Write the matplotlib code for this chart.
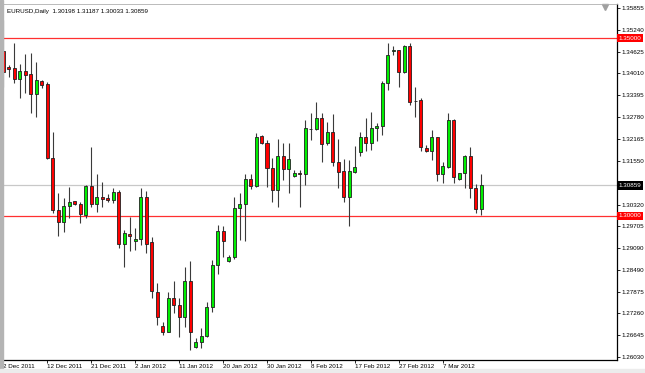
import matplotlib
matplotlib.use("Agg")
import matplotlib.pyplot as plt
from matplotlib.transforms import blended_transform_factory
from matplotlib.patches import Rectangle

plt.rcParams['font.family'] = ['Liberation Sans', 'DejaVu Sans']
FS = 4.5

# daily EURUSD candles
opens = [1.3464, 1.3418, 1.3415, 1.3385, 1.3409, 1.3399, 1.3343, 1.3380, 1.3371, 1.3162,
         1.3017, 1.2983, 1.3028, 1.3041, 1.3034, 1.3003, 1.3084, 1.3034, 1.3053, 1.3050,
         1.3045, 1.3067, 1.2921, 1.2949, 1.2931, 1.2934, 1.3054, 1.2928, 1.2787, 1.2691,
         1.2675, 1.2770, 1.2750, 1.2717, 1.2818, 1.2631, 1.2645, 1.2662, 1.2743, 1.2862,
         1.2958, 1.2874, 1.2884, 1.3022, 1.3034, 1.3104, 1.3084, 1.3225, 1.3206, 1.3136,
         1.3073, 1.3169, 1.3133, 1.3113, 1.3122, 1.3117, 1.3246, 1.3245, 1.3275, 1.3206,
         1.3237, 1.3153, 1.3127, 1.3053, 1.3125, 1.3179, 1.3221, 1.3206, 1.3247, 1.3254,
         1.3373, 1.3463, 1.3467, 1.3406, 1.3478, 1.3324, 1.3326, 1.3190, 1.3184, 1.3221,
         1.3118, 1.3139, 1.3270, 1.3103, 1.3120, 1.3169, 1.3078, 1.30198]
highs = [1.3551, 1.3425, 1.3488, 1.3427, 1.3455, 1.3459, 1.3432, 1.3383, 1.3378, 1.3237,
         1.3064, 1.3050, 1.3082, 1.3043, 1.3040, 1.3087, 1.3195, 1.3118, 1.3096, 1.3061,
         1.3079, 1.3073, 1.2961, 1.2996, 1.2965, 1.3078, 1.3071, 1.2942, 1.2811, 1.2703,
         1.2787, 1.2817, 1.2769, 1.2857, 1.2874, 1.2656, 1.2684, 1.2759, 1.2876, 1.2975,
         1.2973, 1.2890, 1.3053, 1.3064, 1.3118, 1.3118, 1.3234, 1.3228, 1.3214, 1.3162,
         1.3216, 1.3205, 1.3206, 1.3129, 1.3129, 1.3270, 1.3289, 1.3320, 1.3289, 1.3265,
         1.3287, 1.3216, 1.3160, 1.3158, 1.3197, 1.3237, 1.3275, 1.3293, 1.3262, 1.3380,
         1.3486, 1.3479, 1.3468, 1.3481, 1.3486, 1.3364, 1.3331, 1.3200, 1.3242, 1.3223,
         1.3153, 1.3290, 1.3272, 1.3122, 1.3172, 1.3193, 1.3089, 1.31187]
lows = [1.3364, 1.3390, 1.3373, 1.3331, 1.3347, 1.3289, 1.3279, 1.3359, 1.3160, 1.3008,
        1.2945, 1.2956, 1.2994, 1.3032, 1.2981, 1.2994, 1.3026, 1.3012, 1.3024, 1.3040,
        1.3036, 1.2909, 1.2856, 1.2902, 1.2904, 1.2918, 1.2895, 1.2769, 1.2693, 1.2665,
        1.2673, 1.2726, 1.2659, 1.2689, 1.2623, 1.2628, 1.2628, 1.2660, 1.2731, 1.2837,
        1.2886, 1.2871, 1.2878, 1.2932, 1.2930, 1.3075, 1.3082, 1.3203, 1.3082, 1.3040,
        1.3024, 1.3101, 1.3064, 1.3109, 1.3026, 1.3087, 1.3214, 1.3242, 1.3153, 1.3200,
        1.3141, 1.3078, 1.3040, 1.2972, 1.3122, 1.3170, 1.3183, 1.3186, 1.3211, 1.3228,
        1.3354, 1.3453, 1.3364, 1.3401, 1.3312, 1.3279, 1.3184, 1.3181, 1.3158, 1.3099,
        1.3094, 1.3135, 1.3093, 1.3101, 1.3078, 1.3050, 1.3009, 1.30033]
closes = [1.3404, 1.3414, 1.3385, 1.3409, 1.3397, 1.3343, 1.3383, 1.3369, 1.3162, 1.3017,
          1.2983, 1.3028, 1.3039, 1.3034, 1.3006, 1.3084, 1.3034, 1.3053, 1.3047, 1.3045,
          1.3067, 1.2921, 1.2951, 1.2943, 1.2935, 1.3054, 1.2921, 1.2789, 1.2717, 1.2675,
          1.2770, 1.2750, 1.2717, 1.2818, 1.2673, 1.2645, 1.2662, 1.2743, 1.2862, 1.2958,
          1.2931, 1.2884, 1.3022, 1.3034, 1.3105, 1.3085, 1.3221, 1.3205, 1.3134, 1.3073,
          1.3169, 1.3133, 1.3160, 1.3122, 1.3117, 1.3247, 1.3246, 1.3275, 1.3203, 1.3237,
          1.3153, 1.3125, 1.3053, 1.3127, 1.3139, 1.3221, 1.3206, 1.3247, 1.3253, 1.3373,
          1.3453, 1.3467, 1.3406, 1.3478, 1.3322, 1.3324, 1.3193, 1.3184, 1.3221, 1.3118,
          1.3141, 1.3270, 1.3110, 1.3120, 1.3169, 1.3078, 1.3019, 1.30859]

date_labels = ["2 Dec 2011", "12 Dec 2011", "21 Dec 2011", "2 Jan 2012", "11 Jan 2012",
               "20 Jan 2012", "30 Jan 2012", "8 Feb 2012", "17 Feb 2012", "27 Feb 2012",
               "7 Mar 2012"]
price_ticks = [1.35855, 1.35240, 1.34625, 1.34010, 1.33395, 1.32780, 1.32165, 1.31550,
               1.30320, 1.29705, 1.29090, 1.28490, 1.27875, 1.27260, 1.26645, 1.26030]
levels = [1.35000, 1.30000]
last_price = 1.30859
header = "EURUSD,Daily  1.30198 1.31187 1.30033 1.30859"

fig = plt.figure(figsize=(6.45, 3.73), dpi=100, facecolor="white")
ax = fig.add_axes([2.5 / 645, 13.5 / 373, 614 / 645, 355.5 / 373])

n = len(opens)
xs = list(range(n))

# wicks then bodies
ax.vlines(xs, lows, highs, color="#3a3a3a", lw=0.8, zorder=3)
for i in xs:
    o, c = opens[i], closes[i]
    col = "#00ee00" if c >= o else "#ff0000"
    ax.bar(i, abs(c - o), bottom=min(o, c), width=0.55, color=col,
           edgecolor="#202020", linewidth=0.6, zorder=4)

for lv in levels:
    ax.axhline(lv, color="#ff3030", lw=0.9, zorder=2)
ax.axhline(last_price, color="#c8c8c8", lw=0.9, zorder=1)

ax.set_xlim(-0.18, 111.66)
ax.set_ylim(1.25963, 1.35964)

ax.set_xticks(range(0, 8 * len(date_labels), 8))
ax.set_xticklabels(date_labels, ha="left")
ax.tick_params(axis="x", direction="out", length=2.2, width=0.6, pad=1.0,
               labelsize=FS, color="black")

ax.yaxis.tick_right()
ax.set_yticks(price_ticks)
ax.set_yticklabels([f"{p:.5f}" for p in price_ticks])
ax.tick_params(axis="y", direction="out", length=2, width=0.6, pad=1.5,
               labelsize=FS, color="black")

ax.spines["left"].set_visible(False)
ax.spines["top"].set_color("#b0b0b0")
ax.spines["top"].set_linewidth(0.6)
ax.spines["right"].set_linewidth(0.9)
ax.spines["bottom"].set_linewidth(0.9)

# price boxes on the right scale
tr = blended_transform_factory(ax.transAxes, ax.transData)
for lv in levels:
    ax.text(1.003, lv, f"{lv:.5f}", transform=tr, ha="left", va="center",
            color="white", fontsize=FS, clip_on=False, zorder=6,
            bbox=dict(boxstyle="square,pad=0.25", fc="#ff0000", ec="none"))
ax.text(1.003, last_price, f"{last_price:.5f}", transform=tr, ha="left", va="center",
        color="white", fontsize=FS, clip_on=False, zorder=6,
        bbox=dict(boxstyle="square,pad=0.25", fc="black", ec="none"))

ax.text(0.008, 0.985, header, transform=ax.transAxes, ha="left", va="top",
        fontsize=FS, color="black")

# chart shift marker
ax.plot([0.981], [0.992], marker="v", markersize=4, color="#a0a0a0",
        transform=ax.transAxes, clip_on=False)

# window borders
fig.patches.append(Rectangle((0, 0), 2.5 / 645, 1, transform=fig.transFigure,
                             color="#b4b4b4", zorder=0))
fig.patches.append(Rectangle((0, 0), 1, 4 / 373, transform=fig.transFigure,
                             color="#ececec", zorder=0))

fig.savefig("out.png", dpi=100, facecolor=fig.get_facecolor())
